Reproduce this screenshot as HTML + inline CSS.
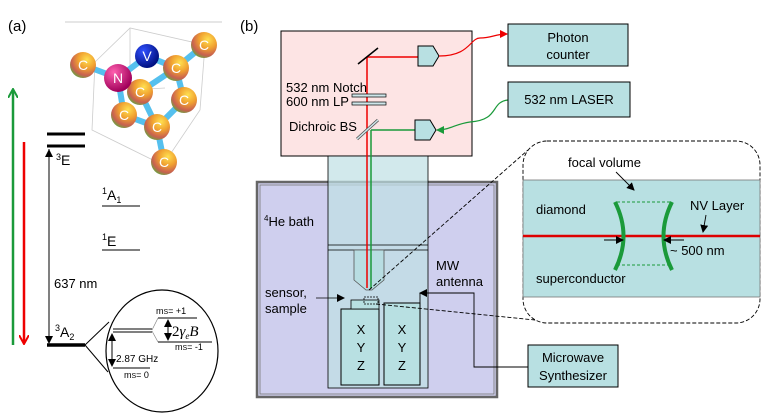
<!DOCTYPE html>
<html><head><meta charset="utf-8"><style>
html,body{margin:0;padding:0;background:#fff}
svg{display:block;font-family:"Liberation Sans",sans-serif}
</style></head><body>
<svg width="763" height="416" viewBox="0 0 763 416" xmlns="http://www.w3.org/2000/svg">
<defs>
<radialGradient id="cb" cx="65%" cy="30%" r="75%"><stop offset="0" stop-color="#ffe050"/><stop offset="0.45" stop-color="#f0a030"/><stop offset="0.8" stop-color="#c86050"/><stop offset="1" stop-color="#70a040"/></radialGradient>
<radialGradient id="nb" cx="35%" cy="30%" r="70%"><stop offset="0" stop-color="#ff60b0"/><stop offset="1" stop-color="#a0005a"/></radialGradient>
<radialGradient id="vb" cx="35%" cy="30%" r="70%"><stop offset="0" stop-color="#3050ff"/><stop offset="1" stop-color="#001080"/></radialGradient>
<marker id="ah" markerWidth="8" markerHeight="8" refX="7" refY="4" orient="auto" markerUnits="userSpaceOnUse"><path d="M0,0 L8,4 L0,8 z" fill="#000"/></marker>
<marker id="ahr" markerWidth="10" markerHeight="10" refX="8" refY="5" orient="auto" markerUnits="userSpaceOnUse"><path d="M0,0 L9,5 L0,10" fill="none" stroke="#e00" stroke-width="2"/></marker>
<marker id="ahg" markerWidth="10" markerHeight="10" refX="8" refY="5" orient="auto" markerUnits="userSpaceOnUse"><path d="M0,0 L9,5 L0,10" fill="none" stroke="#1a9a3a" stroke-width="2"/></marker>
<marker id="ahr2" markerWidth="8" markerHeight="8" refX="7" refY="4" orient="auto" markerUnits="userSpaceOnUse"><path d="M0,0 L8,4 L0,8 z" fill="#e00"/></marker>
<marker id="ahg2" markerWidth="8" markerHeight="8" refX="7" refY="4" orient="auto" markerUnits="userSpaceOnUse"><path d="M0,0 L8,4 L0,8 z" fill="#1a9a3a"/></marker>
</defs>

<!-- panel a -->
<text x="8" y="31" font-size="15">(a)</text>
<line x1="65" y1="22" x2="222" y2="22" stroke="#ccc"/>
<g stroke="#ccc" fill="none" stroke-width="0.8">
<path d="M95,62 L130,28 L205,45 L200,110 L163,165 L92,130 Z"/>
<path d="M130,28 L130,90 L165,88"/>
</g>
<g stroke="#55c0ee" stroke-width="6" stroke-linecap="round">
<line x1="83" y1="65" x2="118" y2="78"/><line x1="118" y1="78" x2="147" y2="56"/>
<line x1="147" y1="56" x2="176" y2="68"/><line x1="176" y1="68" x2="204" y2="45"/>
<line x1="118" y1="78" x2="140" y2="92"/><line x1="140" y1="92" x2="176" y2="68"/>
<line x1="118" y1="78" x2="124" y2="115"/><line x1="140" y1="92" x2="157" y2="127"/>
<line x1="176" y1="68" x2="184" y2="100"/><line x1="184" y1="100" x2="157" y2="127"/>
<line x1="124" y1="115" x2="157" y2="127"/><line x1="157" y1="127" x2="164" y2="162"/>
</g>
<g font-size="14" fill="#fff" text-anchor="middle">
<circle cx="83" cy="65" r="13" fill="url(#cb)"/><text x="83" y="70">C</text>
<circle cx="204" cy="45" r="13" fill="url(#cb)"/><text x="204" y="50">C</text>
<circle cx="176" cy="68" r="13" fill="url(#cb)"/><text x="176" y="73">C</text>
<circle cx="184" cy="100" r="13" fill="url(#cb)"/><text x="184" y="105">C</text>
<circle cx="140" cy="92" r="13" fill="url(#cb)"/><text x="140" y="97">C</text>
<circle cx="124" cy="115" r="13" fill="url(#cb)"/><text x="124" y="120">C</text>
<circle cx="157" cy="127" r="13" fill="url(#cb)"/><text x="157" y="132">C</text>
<circle cx="164" cy="162" r="13" fill="url(#cb)"/><text x="164" y="167">C</text>
<circle cx="118" cy="78" r="14" fill="url(#nb)"/><text x="118" y="83">N</text>
<circle cx="147" cy="56" r="12" fill="url(#vb)"/><text x="147" y="61">V</text>
</g>
<line x1="13" y1="345" x2="13" y2="90" stroke="#1a9a3a" stroke-width="2.5" marker-end="url(#ahg)"/>
<line x1="24" y1="142" x2="24" y2="343" stroke="#e00" stroke-width="2.5" marker-end="url(#ahr)"/>
<line x1="47" y1="134" x2="85" y2="134" stroke="#000" stroke-width="3"/>
<line x1="47" y1="146" x2="85" y2="146" stroke="#000" stroke-width="3"/>
<text x="56" y="165" font-size="14"><tspan font-size="9" dy="-5">3</tspan><tspan dy="5">E</tspan></text>
<line x1="49" y1="149" x2="49" y2="343" stroke="#000" stroke-width="1" marker-end="url(#ah)"/>
<line x1="49" y1="343" x2="49" y2="150" stroke="#000" stroke-width="1" marker-end="url(#ah)"/>
<text x="102" y="200" font-size="14"><tspan font-size="9" dy="-6">1</tspan><tspan dy="6">A</tspan><tspan font-size="9" dy="3">1</tspan></text>
<line x1="102" y1="206" x2="140" y2="206" stroke="#000"/>
<text x="102" y="246" font-size="14"><tspan font-size="9" dy="-6">1</tspan><tspan dy="6">E</tspan></text>
<line x1="102" y1="250" x2="140" y2="250" stroke="#000"/>
<text x="54" y="288" font-size="13">637 nm</text>
<text x="55" y="337" font-size="14"><tspan font-size="9" dy="-6">3</tspan><tspan dy="6">A</tspan><tspan font-size="9" dy="3">2</tspan></text>
<line x1="47" y1="345" x2="85" y2="345" stroke="#000" stroke-width="3.5"/>
<ellipse cx="162" cy="351" rx="56" ry="61" fill="#fff" stroke="#000" stroke-width="1.2"/>
<line x1="85" y1="345" x2="109" y2="322" stroke="#000"/><line x1="85" y1="345" x2="108" y2="372" stroke="#000"/>
<line x1="113" y1="329" x2="152" y2="329" stroke="#000"/><line x1="113" y1="332" x2="152" y2="332" stroke="#000"/>
<line x1="152" y1="330" x2="158" y2="318" stroke="#888" stroke-width="0.7"/><line x1="152" y1="331" x2="158" y2="342" stroke="#888" stroke-width="0.7"/>
<line x1="158" y1="318" x2="197" y2="318" stroke="#000"/><line x1="158" y1="342" x2="212" y2="342" stroke="#000"/>
<line x1="113" y1="368" x2="150" y2="368" stroke="#000"/>
<text x="156" y="314" font-size="9">m<tspan font-size="7">S</tspan>= +1</text>
<text x="175" y="350" font-size="9">m<tspan font-size="7">S</tspan>= -1</text>
<text x="124" y="378" font-size="9">m<tspan font-size="7">S</tspan>= 0</text>
<line x1="168" y1="320" x2="168" y2="340" stroke="#000" marker-end="url(#ah)"/>
<line x1="168" y1="340" x2="168" y2="320" stroke="#000" marker-end="url(#ah)"/>
<text x="172" y="336" font-size="15" font-family="Liberation Serif,serif">2<tspan font-style="italic">γ<tspan font-size="9" dy="3">e</tspan><tspan dy="-3">B</tspan></tspan></text>
<line x1="112" y1="334" x2="112" y2="366" stroke="#000" marker-end="url(#ah)"/>
<line x1="112" y1="366" x2="112" y2="334" stroke="#000" marker-end="url(#ah)"/>
<text x="116" y="362" font-size="10">2.87 GHz</text>

<!-- panel b -->
<text x="240" y="31" font-size="15">(b)</text>
<rect x="257" y="182" width="240" height="215" fill="#cfcfee" stroke="#666" stroke-width="2.5"/>
<rect x="260" y="185" width="234" height="209" fill="none" stroke="#777" stroke-width="0.8"/>
<rect x="281" y="31" width="191" height="125" fill="#fde4e4" stroke="#000"/>
<rect x="328" y="156" width="100" height="232" fill="#bfe0e4" fill-opacity="0.7" stroke="#000" stroke-width="0.8"/>
<line x1="328" y1="245" x2="428" y2="245" stroke="#000" stroke-width="0.8"/>
<line x1="328" y1="250" x2="428" y2="250" stroke="#000" stroke-width="0.8"/>
<path d="M354,250 L384,250 L384,280 L372,290 L366,290 L354,280 Z" fill="#b8dde2" stroke="#555" stroke-width="0.8"/>
<rect x="341" y="309" width="38" height="76" fill="#b8e0e2" stroke="#000"/>
<rect x="384" y="303" width="36" height="82" fill="#b8e0e2" stroke="#000"/>
<rect x="351" y="300" width="28" height="9" fill="#b8e0e2" stroke="#000" stroke-width="0.8"/>
<rect x="364" y="297" width="14" height="7" fill="none" stroke="#000" stroke-width="0.8" stroke-dasharray="2,1"/>
<g font-size="13" text-anchor="middle"><text x="361" y="334">X</text><text x="361" y="352">Y</text><text x="361" y="370">Z</text>
<text x="402" y="334">X</text><text x="402" y="352">Y</text><text x="402" y="370">Z</text></g>
<text x="264" y="226" font-size="13"><tspan font-size="8" dy="-5">4</tspan><tspan dy="5">He  bath</tspan></text>
<text x="436" y="270" font-size="13">MW</text><text x="436" y="286" font-size="13">antenna</text>
<text x="265" y="297" font-size="13">sensor,</text><text x="265" y="313" font-size="13">sample</text>
<line x1="316" y1="298" x2="344" y2="298" stroke="#000" stroke-width="0.8" marker-end="url(#ah)"/>
<!-- beams -->
<line x1="367" y1="57" x2="367" y2="288" stroke="#e00" stroke-width="1.5"/>
<line x1="371" y1="130" x2="371" y2="288" stroke="#1a9a3a" stroke-width="1.5"/>
<line x1="367" y1="57" x2="418" y2="57" stroke="#e00" stroke-width="1.5"/>
<line x1="371" y1="130" x2="415" y2="130" stroke="#1a9a3a" stroke-width="1.5"/>
<line x1="358" y1="64" x2="378" y2="48" stroke="#000" stroke-width="1.5"/>
<rect x="352" y="94" width="34" height="3" fill="#cfe6ea" stroke="#000" stroke-width="0.7"/>
<rect x="352" y="102" width="34" height="3" fill="#cfe6ea" stroke="#000" stroke-width="0.7"/>
<line x1="357" y1="139" x2="378" y2="120" stroke="#555" stroke-width="3"/>
<line x1="357" y1="139" x2="378" y2="120" stroke="#cfe6ea" stroke-width="1.5"/>
<text x="286" y="92" font-size="13">532 nm Notch</text>
<text x="286" y="106" font-size="13">600 nm LP</text>
<text x="289" y="131" font-size="13">Dichroic BS</text>
<path d="M418,46 L433,46 L439,56 L433,66 L418,66 Z" fill="#b8e0e2" stroke="#000"/>
<path d="M415,120 L430,120 L436,130 L430,140 L415,140 Z" fill="#b8e0e2" stroke="#000"/>
<path d="M439,56 C470,56 470,38 480,38 C492,38 495,34 507,34" fill="none" stroke="#e00" stroke-width="1.2" marker-end="url(#ahr2)"/>
<path d="M508,100 C490,102 500,120 470,122 C455,124 450,130 437,130" fill="none" stroke="#1a9a3a" stroke-width="1.2" marker-end="url(#ahg2)"/>
<rect x="508" y="24" width="120" height="42" fill="#b8e0e2" stroke="#000"/>
<text x="568" y="42" font-size="13" text-anchor="middle">Photon</text>
<text x="568" y="59" font-size="13" text-anchor="middle">counter</text>
<rect x="508" y="82" width="122" height="35" fill="#b8e0e2" stroke="#000"/>
<text x="569" y="104" font-size="13" text-anchor="middle">532 nm LASER</text>
<!-- MW wire -->
<polyline points="528,367 474,367 474,293 420,293" fill="none" stroke="#000" stroke-width="0.9" marker-end="url(#ah)"/>
<polyline points="420,293 420,305" fill="none" stroke="#000" stroke-width="0.9"/>
<rect x="528" y="345" width="90" height="42" fill="#b8e0e2" stroke="#000"/>
<text x="573" y="362" font-size="13" text-anchor="middle">Microwave</text>
<text x="573" y="380" font-size="13" text-anchor="middle">Synthesizer</text>
<!-- dashed zoom -->
<line x1="369" y1="290" x2="528" y2="150" stroke="#000" stroke-width="0.9" stroke-dasharray="4,2"/>
<line x1="376" y1="304" x2="545" y2="321" stroke="#000" stroke-width="0.9" stroke-dasharray="4,2"/>
<rect x="523" y="141" width="237" height="182" rx="24" fill="#fff" stroke="#000" stroke-width="0.9" stroke-dasharray="4,2"/>
<rect x="523" y="180" width="237" height="117" fill="#b8e0e2" stroke="#777" stroke-width="0.8"/>
<line x1="523" y1="236" x2="760" y2="236" stroke="#d00" stroke-width="2.5"/>
<path d="M615,202 Q632,236 615,270" fill="none" stroke="#1a9a3a" stroke-width="4"/>
<path d="M672,202 Q655,236 672,270" fill="none" stroke="#1a9a3a" stroke-width="4"/>
<line x1="617" y1="202" x2="670" y2="202" stroke="#1a9a3a" stroke-dasharray="3,2"/>
<line x1="617" y1="265" x2="670" y2="265" stroke="#1a9a3a" stroke-dasharray="3,2"/>
<text x="568" y="167" font-size="13">focal volume</text>
<line x1="616" y1="172" x2="634" y2="190" stroke="#000" stroke-width="0.9" marker-end="url(#ah)"/>
<text x="536" y="214" font-size="13">diamond</text>
<text x="690" y="210" font-size="13">NV Layer</text>
<line x1="706" y1="215" x2="703" y2="232" stroke="#000" stroke-width="0.9" marker-end="url(#ah)"/>
<line x1="604" y1="240" x2="623" y2="240" stroke="#000" stroke-width="0.9" marker-end="url(#ah)"/>
<line x1="684" y1="240" x2="664" y2="240" stroke="#000" stroke-width="0.9" marker-end="url(#ah)"/>
<text x="670" y="255" font-size="13">~ 500 nm</text>
<text x="536" y="283" font-size="13">superconductor</text>
</svg>
</body></html>
